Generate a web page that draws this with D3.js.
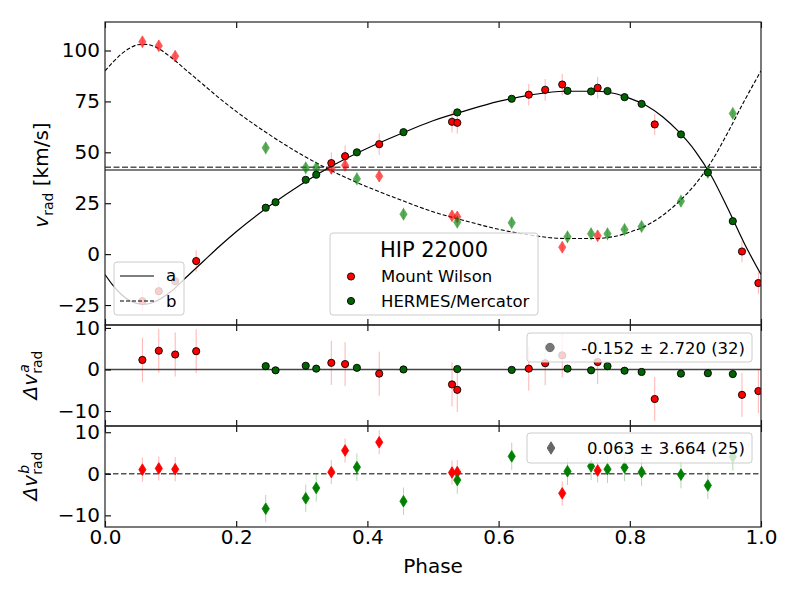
<!DOCTYPE html>
<html>
<head>
<meta charset="utf-8">
<script src="https://cdn.jsdelivr.net/npm/d3@7"></script>
<style>
  body { margin: 0; background: #fff; }
  text { font-family: "DejaVu Sans", sans-serif; fill: #000; white-space: pre; }
</style>
</head>
<body>
<svg id="chart" width="800" height="600"></svg>
<script>
// ---- data ----
// component a, Mount Wilson (red circles)
var phaseA_MW = [0.057, 0.082, 0.107, 0.139, 0.345, 0.366, 0.418, 0.529, 0.537, 0.646, 0.671, 0.697, 0.751, 0.838, 0.971, 0.996];
var vA_MW     = [-23.1, -18.2, -13.3, -3.4, 44.7, 48.1, 54.0, 65.0, 64.5, 78.3, 80.7, 83.3, 81.7, 63.7, 1.3, -14.2];
var resA_MW   = [2.3, 4.5, 3.6, 4.4, 1.6, 1.3, -1.0, -3.6, -4.9, 0.2, 1.5, 3.4, 1.8, -7.1, -6.1, -5.2];
var errA_MW   = [5.3, 5.3, 5.3, 5.3, 5.3, 5.3, 5.3, 5.3, 5.3, 5.3, 5.3, 5.3, 5.3, 5.3, 5.3, 5.3];

// component a, HERMES/Mercator (green circles)
var phaseA_HM = [0.245, 0.260, 0.306, 0.322, 0.384, 0.455, 0.537, 0.620, 0.705, 0.741, 0.766, 0.792, 0.818, 0.878, 0.919, 0.957];
var vA_HM     = [22.8, 25.5, 36.5, 39.0, 50.0, 59.9, 69.6, 76.3, 80.2, 79.9, 80.1, 77.1, 73.8, 58.8, 40.1, 16.2];
var resA_HM   = [0.8, -0.2, 0.9, 0.2, 0.4, 0.0, 0.1, -0.1, 0.2, -0.2, 0.8, -0.3, -0.6, -1.0, -0.9, -1.1];
var errA_HM   = [0.5, 0.5, 0.5, 0.5, 0.5, 0.5, 0.5, 0.5, 0.5, 0.5, 0.5, 0.5, 0.5, 0.5, 0.5, 0.5];

// component b, Mount Wilson (red diamonds)
var phaseB_MW = [0.057, 0.082, 0.107, 0.345, 0.366, 0.418, 0.529, 0.537, 0.697, 0.751];
var vB_MW     = [104.3, 102.3, 97.2, 42.1, 43.6, 38.3, 18.8, 18.3, 3.4, 9.0];
var resB_MW   = [1.0, 1.3, 1.1, 0.4, 5.6, 7.6, 0.3, 0.4, -4.7, 0.8];
var errB_MW   = [2.9, 2.9, 2.9, 2.9, 2.9, 2.9, 2.9, 2.9, 2.9, 2.9];

// component b, HERMES/Mercator (green diamonds)
var phaseB_HM = [0.245, 0.306, 0.322, 0.384, 0.455, 0.537, 0.620, 0.705, 0.741, 0.766, 0.792, 0.818, 0.878, 0.919, 0.957];
var vB_HM     = [52.2, 42.4, 42.4, 37.0, 19.6, 15.7, 15.4, 8.5, 10.0, 10.0, 12.1, 13.6, 26.0, 40.2, 69.1];
var resB_HM   = [-8.4, -5.9, -3.4, 1.6, -6.6, -1.5, 4.2, 0.6, 1.8, 1.1, 1.5, 0.4, -0.2, -2.8, 4.1];
var errB_HM   = [3.3, 3.3, 3.3, 3.3, 3.3, 3.3, 3.3, 3.3, 3.3, 3.3, 3.3, 3.3, 3.3, 3.3, 3.3];

// orbit model, sampled from the drawn curves
var modelPhase = [0, 0.0125, 0.025, 0.0375, 0.05, 0.0625, 0.075, 0.1, 0.125, 0.15, 0.175, 0.2, 0.25, 0.3, 0.35, 0.4, 0.45, 0.5, 0.55, 0.6, 0.65, 0.7, 0.75, 0.775, 0.8, 0.825, 0.85, 0.875, 0.9, 0.925, 0.95, 0.975, 1.0];
var modelA = [-10, -15.5, -19.8, -22.8, -24.3, -24.5, -23.5, -18.5, -11, -3.5, 4, 11, 23.5, 34.5, 44, 52, 59, 65.5, 70.5, 75, 78.2, 80, 80, 79, 76.5, 73, 67.5, 60, 50.5, 38, 22, 5, -10];
var modelB = [90, 94.4, 98.3, 101.1, 102.8, 103.0, 102.0, 96.8, 90.0, 83.2, 76.4, 70.1, 58.8, 48.8, 40.2, 33.0, 26.7, 20.8, 16.3, 12.2, 9.3, 7.7, 7.7, 8.6, 10.8, 14.0, 19.0, 25.8, 34.4, 45.7, 60.1, 75.5, 90];

// systemic velocities of a and b
var gammaA = 41.3;
var gammaB = 42.7;

var xTicks = [0, 0.2, 0.4, 0.6, 0.8, 1.0];
var topTicks = [-25, 0, 25, 50, 75, 100];
var resTicks = [-10, 0, 10];
var legendA = "-0.152 \u00b1 2.720 (32)";
var legendB = "0.063 \u00b1 3.664 (25)";

// ---- layout ----
var svg = d3.select("#chart");
var RED = "#ff0000", GREEN = "#008000", DKGREEN = "#006400";

var x = d3.scaleLinear().domain([0, 1]).range([105, 761]);

var panels = [
  { id: "top", top: 22, bottom: 325, domain: [-34.8, 114], ticks: topTicks },
  { id: "mid", top: 325, bottom: 426, domain: [-13.6, 10.7], ticks: resTicks },
  { id: "bot", top: 426, bottom: 527, domain: [-12.8, 11.5], ticks: resTicks }
];
panels.forEach(function(p) {
  p.y = d3.scaleLinear().domain(p.domain).range([p.bottom, p.top]);
  svg.append("clipPath").attr("id", "clip-" + p.id)
    .append("rect")
    .attr("x", x(0)).attr("y", p.top)
    .attr("width", x(1) - x(0)).attr("height", p.bottom - p.top);
  p.g = svg.append("g").attr("clip-path", "url(#clip-" + p.id + ")");
});
var pTop = panels[0], pMid = panels[1], pBot = panels[2];

function diamondPath(w, h) {
  return "M0," + (-h) + "L" + w + ",0L0," + h + "L" + (-w) + ",0Z";
}

function drawSeries(g, y, phases, vals, errs, o) {
  var data = phases.map(function(p, i) { return { p: p, v: vals[i], e: errs[i] }; });
  g.append("g").selectAll("line").data(data).enter().append("line")
    .attr("x1", function(d) { return x(d.p); })
    .attr("x2", function(d) { return x(d.p); })
    .attr("y1", function(d) { return y(d.v - d.e); })
    .attr("y2", function(d) { return y(d.v + d.e); })
    .attr("stroke", o.color)
    .attr("stroke-opacity", o.errAlpha)
    .attr("stroke-width", 1);
  if (o.shape === "circle") {
    g.append("g").selectAll("circle").data(data).enter().append("circle")
      .attr("cx", function(d) { return x(d.p); })
      .attr("cy", function(d) { return y(d.v); })
      .attr("r", 3.6)
      .attr("fill", o.fill)
      .attr("stroke", "#000")
      .attr("stroke-width", 0.9);
  } else {
    g.append("g").selectAll("path").data(data).enter().append("path")
      .attr("transform", function(d) { return "translate(" + x(d.p) + "," + y(d.v) + ")"; })
      .attr("d", diamondPath(3.6, 5.8))
      .attr("fill", o.fill)
      .attr("stroke", o.fill)
      .attr("stroke-width", 0.8)
      .attr("opacity", o.alpha || 1);
  }
}

// ---- top panel ----
pTop.g.append("line")
  .attr("x1", x(0)).attr("x2", x(1))
  .attr("y1", pTop.y(gammaA)).attr("y2", pTop.y(gammaA))
  .attr("stroke", "#555").attr("stroke-width", 1.6);
pTop.g.append("line")
  .attr("x1", x(0)).attr("x2", x(1))
  .attr("y1", pTop.y(gammaB)).attr("y2", pTop.y(gammaB))
  .attr("stroke", "#555").attr("stroke-width", 1.6)
  .attr("stroke-dasharray", "6,2.5");

var lineA = d3.line()
  .x(function(d, i) { return x(modelPhase[i]); })
  .y(function(d) { return pTop.y(d); })
  .curve(d3.curveMonotoneX);
pTop.g.append("path").datum(modelA)
  .attr("d", lineA).attr("fill", "none")
  .attr("stroke", "#000").attr("stroke-width", 1.2);
pTop.g.append("path").datum(modelB)
  .attr("d", lineA).attr("fill", "none")
  .attr("stroke", "#000").attr("stroke-width", 1.1)
  .attr("stroke-dasharray", "4,2");

drawSeries(pTop.g, pTop.y, phaseB_MW, vB_MW, errB_MW, { shape: "diamond", color: RED, fill: RED, errAlpha: 0.25, alpha: 0.65 });
drawSeries(pTop.g, pTop.y, phaseB_HM, vB_HM, errB_HM, { shape: "diamond", color: GREEN, fill: GREEN, errAlpha: 0.25, alpha: 0.65 });
drawSeries(pTop.g, pTop.y, phaseA_MW, vA_MW, errA_MW, { shape: "circle", color: RED, fill: RED, errAlpha: 0.3 });
drawSeries(pTop.g, pTop.y, phaseA_HM, vA_HM, errA_HM, { shape: "circle", color: GREEN, fill: DKGREEN, errAlpha: 0.3 });

// ---- residual a ----
pMid.g.append("line")
  .attr("x1", x(0)).attr("x2", x(1))
  .attr("y1", pMid.y(0)).attr("y2", pMid.y(0))
  .attr("stroke", "#444").attr("stroke-width", 1.5);
drawSeries(pMid.g, pMid.y, phaseA_MW, resA_MW, errA_MW, { shape: "circle", color: RED, fill: RED, errAlpha: 0.3 });
drawSeries(pMid.g, pMid.y, phaseA_HM, resA_HM, errA_HM, { shape: "circle", color: GREEN, fill: DKGREEN, errAlpha: 0.3 });

// ---- residual b ----
pBot.g.append("line")
  .attr("x1", x(0)).attr("x2", x(1))
  .attr("y1", pBot.y(0)).attr("y2", pBot.y(0))
  .attr("stroke", "#555").attr("stroke-width", 1.5)
  .attr("stroke-dasharray", "5.5,2.5");
drawSeries(pBot.g, pBot.y, phaseB_MW, resB_MW, errB_MW, { shape: "diamond", color: RED, fill: RED, errAlpha: 0.3 });
drawSeries(pBot.g, pBot.y, phaseB_HM, resB_HM, errB_HM, { shape: "diamond", color: GREEN, fill: GREEN, errAlpha: 0.3 });

// ---- axes / frames ----
panels.forEach(function(p, k) {
  var ax = svg.append("g");
  ax.append("g").attr("transform", "translate(0," + p.bottom + ")")
    .call(d3.axisBottom(x).tickValues(xTicks).tickSizeInner(-6).tickSizeOuter(0)
      .tickFormat(k === 2 ? d3.format(".1f") : ""));
  ax.append("g").attr("transform", "translate(0," + p.top + ")")
    .call(d3.axisTop(x).tickValues(xTicks).tickSizeInner(-6).tickSizeOuter(0).tickFormat(""));
  ax.append("g").attr("class", "yaxis").attr("transform", "translate(" + x(0) + ",0)")
    .call(d3.axisLeft(p.y).tickValues(p.ticks).tickSizeInner(-6).tickSizeOuter(0)
      .tickFormat(function(d) { return d < 0 ? "\u2212" + Math.abs(d) : d; }));
  ax.selectAll(".domain").remove();
  ax.selectAll(".tick line").attr("stroke", "#000").attr("stroke-width", 1.1);
  ax.selectAll(".tick text").attr("font-size", 20).attr("font-family", "DejaVu Sans").attr("fill", "#000");
  ax.append("rect")
    .attr("x", x(0)).attr("y", p.top)
    .attr("width", x(1) - x(0)).attr("height", p.bottom - p.top)
    .attr("fill", "none").attr("stroke", "#222").attr("stroke-width", 1.2);
});
// tick labels sit just left of the frame
svg.selectAll(".yaxis .tick text").attr("x", -5);

// ---- legends ----
function legendBox(x0, y0, w, h) {
  svg.append("rect").attr("x", x0).attr("y", y0).attr("width", w).attr("height", h)
    .attr("rx", 3).attr("fill", "#fff").attr("fill-opacity", 0.8)
    .attr("stroke", "#ccc").attr("stroke-width", 1);
}

// line legend a / b
legendBox(114, 262, 70, 53);
svg.append("line").attr("x1", 120).attr("x2", 154).attr("y1", 276).attr("y2", 276)
  .attr("stroke", "#000").attr("stroke-width", 1.2);
svg.append("line").attr("x1", 120).attr("x2", 154).attr("y1", 301).attr("y2", 301)
  .attr("stroke", "#000").attr("stroke-width", 1.1).attr("stroke-dasharray", "4,2");
svg.append("text").attr("x", 166).attr("y", 281).attr("font-size", 16.5).text("a");
svg.append("text").attr("x", 166).attr("y", 307).attr("font-size", 16.5).text("b");

// instrument legend
legendBox(330, 233, 208, 82);
svg.append("text").attr("x", 434).attr("y", 257).attr("font-size", 21)
  .attr("text-anchor", "middle").text("HIP 22000");
svg.append("circle").attr("cx", 351).attr("cy", 276.5).attr("r", 3.6)
  .attr("fill", RED).attr("stroke", "#000").attr("stroke-width", 0.9);
svg.append("text").attr("x", 381).attr("y", 282).attr("font-size", 16.5).text("Mount Wilson");
svg.append("circle").attr("cx", 351).attr("cy", 301).attr("r", 3.6)
  .attr("fill", DKGREEN).attr("stroke", "#000").attr("stroke-width", 0.9);
svg.append("text").attr("x", 381).attr("y", 307).attr("font-size", 16.5).text("HERMES/Mercator");

// residual legends
legendBox(527, 333, 225, 29);
svg.append("circle").attr("cx", 550).attr("cy", 347.5).attr("r", 4.2)
  .attr("fill", "#777").attr("stroke", "#666").attr("stroke-width", 0.9);
svg.append("text").attr("x", 745).attr("y", 353.5).attr("font-size", 16.5)
  .attr("text-anchor", "end").text(legendA);

legendBox(527, 433, 225, 30);
svg.append("path").attr("transform", "translate(551,448)")
  .attr("d", diamondPath(3.8, 6.2)).attr("fill", "#666").attr("stroke", "#666");
svg.append("text").attr("x", 745).attr("y", 454).attr("font-size", 16.5)
  .attr("text-anchor", "end").text(legendB);

// ---- axis labels ----
svg.append("text").attr("x", x(0.5)).attr("y", 573).attr("font-size", 20)
  .attr("text-anchor", "middle").text("Phase");

function yLabel(cx, cy, main, sup, sub, tail) {
  var g = svg.append("g").attr("transform", "translate(" + cx + "," + cy + ") rotate(-90)");
  var t = g.append("text").attr("font-size", 20).attr("font-style", "italic").text(main);
  var wMain = t.node().getComputedTextLength();
  var s1 = null, s2, wSup = 0;
  if (sup) {
    s1 = g.append("text").attr("font-size", 14).attr("font-style", "italic").attr("y", -8).text(sup);
    wSup = s1.node().getComputedTextLength();
  }
  s2 = g.append("text").attr("font-size", 14).attr("y", 4.5).text(sub);
  var wSub = s2.node().getComputedTextLength();
  var tl = null, wTail = 0;
  if (tail) {
    tl = g.append("text").attr("font-size", 20).text(tail);
    wTail = tl.node().getComputedTextLength();
  }
  var total = wMain + Math.max(wSup, wSub) + wTail;
  var x0 = -total / 2;
  t.attr("x", x0);
  if (s1) s1.attr("x", x0 + wMain + 1);
  s2.attr("x", x0 + wMain);
  if (tl) tl.attr("x", x0 + wMain + Math.max(wSup, wSub));
}
yLabel(48, 175, "v", null, "rad", "\u00a0[km/s]");
yLabel(37, 375, "\u0394v", "a", "rad", null);
yLabel(37, 476, "\u0394v", "b", "rad", null);
</script>
</body>
</html>
